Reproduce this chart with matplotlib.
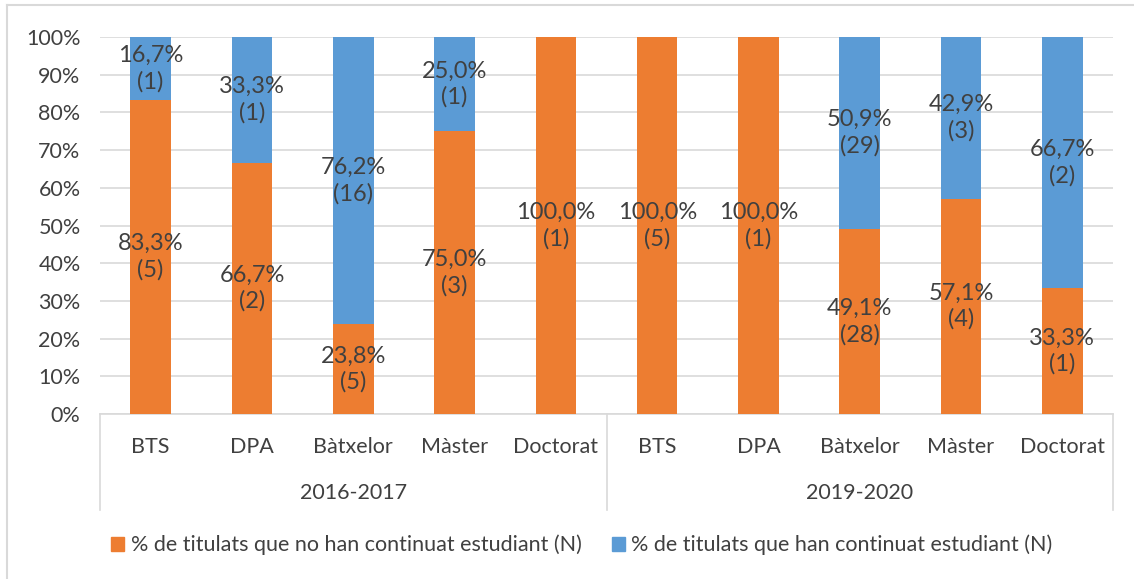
import matplotlib.pyplot as plt
import matplotlib.transforms as mtransforms
from matplotlib.patches import Patch
from matplotlib.lines import Line2D
import numpy as np

plt.rcParams['font.family'] = ['Lato', 'DejaVu Sans']

years = ["2016-2017", "2019-2020"]
levels = ["BTS", "DPA", "Bàtxelor", "Màster", "Doctorat"]

# % no continuen / continuen, with counts (N)
pct_no = [83.3, 66.7, 23.8, 75.0, 100.0, 100.0, 100.0, 49.1, 57.1, 33.3]
n_no = [5, 2, 5, 3, 1, 5, 1, 28, 4, 1]
pct_si = [16.7, 33.3, 76.2, 25.0, 0.0, 0.0, 0.0, 50.9, 42.9, 66.7]
n_si = [1, 1, 16, 1, 0, 0, 0, 29, 3, 2]

orange = "#ED7D31"
blue = "#5B9BD5"
txt = "#404040"
grid = "#D9D9D9"
fs = 15.5

fig = plt.figure(figsize=(11.34, 5.79), dpi=100)
ax = fig.add_axes([100 / 1134, 1 - 414 / 579, 1013 / 1134, 377 / 579])

x = np.arange(len(pct_no))
w = 0.4
ax.bar(x, pct_no, w, color=orange, zorder=3)
ax.bar(x, pct_si, w, bottom=pct_no, color=blue, zorder=3)

def fmt(v, n):
    return f"{v:.1f}".replace(".", ",") + f"%\n({n})"

for i in x:
    if pct_no[i] > 0:
        ax.text(i, pct_no[i] / 2, fmt(pct_no[i], n_no[i]), ha="center", va="center",
                fontsize=17, color=txt, linespacing=1.28, zorder=4)
    if pct_si[i] > 0:
        ax.text(i, pct_no[i] + pct_si[i] / 2, fmt(pct_si[i], n_si[i]), ha="center",
                va="center", fontsize=17, color=txt, linespacing=1.28, zorder=4)

ax.set_xlim(-0.5, len(x) - 0.5)
ax.set_ylim(0, 100)
ax.set_yticks(range(0, 101, 10))
ax.set_yticklabels([f"{t}%" for t in range(0, 101, 10)], fontsize=fs, color=txt)
ax.tick_params(axis="y", length=0, pad=14)
ax.set_xticks([])
for s in ["top", "right", "left"]:
    ax.spines[s].set_visible(False)
ax.spines["bottom"].set_color(grid)
ax.spines["bottom"].set_linewidth(1.2)
ax.yaxis.grid(True, color=grid, linewidth=1.2, zorder=0)

# two-level category axis
trans = mtransforms.blended_transform_factory(ax.transData, ax.transAxes)
for gi, yr in enumerate(years):
    for li, lv in enumerate(levels):
        ax.text(gi * 5 + li, -0.088, lv, transform=trans, ha="center", va="center",
                fontsize=fs, color=txt)
    ax.text(gi * 5 + 2, -0.21, yr, transform=trans, ha="center", va="center",
            fontsize=fs, color=txt)
for xd in [-0.5, 4.5, 9.5]:
    ax.add_line(Line2D([xd, xd], [0, -0.255], transform=trans, color=grid,
                       linewidth=1.2, clip_on=False))

handles = [Patch(color=orange, label="% de titulats que no han continuat estudiant (N)"),
           Patch(color=blue, label="% de titulats que han continuat estudiant (N)")]
fig.legend(handles=handles, loc="center", bbox_to_anchor=(582 / 1134, 1 - 545 / 579),
           ncol=2, frameon=False, fontsize=fs, handlelength=0.6, handleheight=0.6,
           handletextpad=0.3, columnspacing=1.4, labelcolor=txt)

# chart area border (top and left edges)
fig.add_artist(Line2D([7 / 1134, 7 / 1134], [0, 1 - 5 / 579], transform=fig.transFigure,
                      color=grid, linewidth=1.5))
fig.add_artist(Line2D([7 / 1134, 1], [1 - 5 / 579, 1 - 5 / 579], transform=fig.transFigure,
                      color=grid, linewidth=1.5))

fig.savefig("out.png", dpi=100)
